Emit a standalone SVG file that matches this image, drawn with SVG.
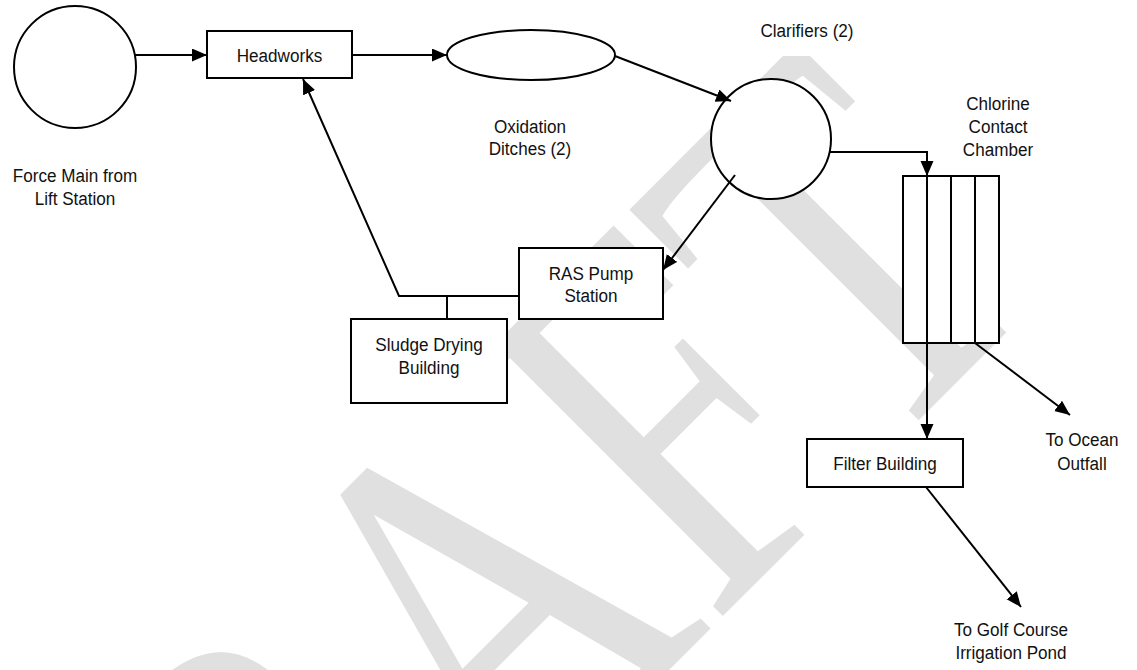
<svg xmlns="http://www.w3.org/2000/svg" width="1137" height="670" viewBox="0 0 1137 670">
<style>
.shape{fill:#fff;stroke:#000;stroke-width:2}
.div{fill:none;stroke:#000;stroke-width:2}
.conn{fill:none;stroke:#000;stroke-width:2}
.lbl{font-family:"Liberation Sans",Arial,sans-serif;font-size:19px;fill:#111;text-anchor:middle}
.wm{font-family:"Liberation Serif","Times New Roman",serif;font-size:540px;fill:#e0e0e0}
</style>
<defs>
<marker id="arr" markerUnits="userSpaceOnUse" markerWidth="16" markerHeight="14" refX="15" refY="6.5" orient="auto">
<path d="M0,0 L15,6.5 L0,13 z" fill="#000"/>
</marker>
<clipPath id="wmclip"><rect x="0" y="56" width="1137" height="614"/></clipPath>
</defs>
<rect width="1137" height="670" fill="#fff"/>
<g id="watermark" clip-path="url(#wmclip)">
<text class="wm" transform="translate(100,1239) rotate(-45) scale(0.76,1)">DRAFT</text>
</g>
<g id="force-main">
<circle class="shape" cx="75" cy="67" r="61"/>
<text class="lbl" transform="translate(75,182) scale(0.9,1)"><tspan x="0" y="0">Force Main from</tspan><tspan x="0" y="23">Lift Station</tspan></text>
</g>
<g id="headworks">
<rect class="shape" x="207" y="31" width="145" height="47"/>
<text class="lbl" transform="translate(279.5,62) scale(0.9,1)">Headworks</text>
</g>
<g id="oxidation-ditches">
<ellipse class="shape" cx="531" cy="55" rx="84" ry="25"/>
<text class="lbl" transform="translate(530,133) scale(0.9,1)"><tspan x="0" y="0">Oxidation</tspan><tspan x="0" y="22">Ditches (2)</tspan></text>
</g>
<g id="clarifiers">
<circle class="shape" cx="771" cy="139" r="60"/>
<text class="lbl" transform="translate(807,37) scale(0.9,1)">Clarifiers (2)</text>
</g>
<g id="chlorine-contact-chamber">
<rect class="shape" x="903" y="176" width="96" height="167"/>
<path class="div" d="M927,176 V343 M951,176 V343 M975,176 V343"/>
<text class="lbl" transform="translate(998,110) scale(0.9,1)"><tspan x="0" y="0">Chlorine</tspan><tspan x="0" y="23">Contact</tspan><tspan x="0" y="46">Chamber</tspan></text>
</g>
<g id="ras-pump-station">
<rect class="shape" x="519" y="248" width="144" height="71"/>
<text class="lbl" transform="translate(591,280) scale(0.9,1)"><tspan x="0" y="0">RAS Pump</tspan><tspan x="0" y="22.5">Station</tspan></text>
</g>
<g id="sludge-drying-building">
<rect class="shape" x="351" y="319" width="156" height="84"/>
<text class="lbl" transform="translate(429,351) scale(0.9,1)"><tspan x="0" y="0">Sludge Drying</tspan><tspan x="0" y="23">Building</tspan></text>
</g>
<g id="filter-building">
<rect class="shape" x="807" y="439" width="156" height="48"/>
<text class="lbl" transform="translate(885,470) scale(0.9,1)">Filter Building</text>
</g>
<g id="ocean-outfall">
<text class="lbl" transform="translate(1082,446) scale(0.9,1)"><tspan x="0" y="0">To Ocean</tspan><tspan x="0" y="24">Outfall</tspan></text>
</g>
<g id="golf-course">
<text class="lbl" transform="translate(1011,636) scale(0.9,1)"><tspan x="0" y="0">To Golf Course</tspan><tspan x="0" y="23">Irrigation Pond</tspan></text>
</g>
<g id="connectors">
<path class="conn" d="M135,55 H207" marker-end="url(#arr)"/>
<path class="conn" d="M352,55 H447" marker-end="url(#arr)"/>
<path class="conn" d="M615,56 L731,101" marker-end="url(#arr)"/>
<path class="conn" d="M830,152 H927 V176" marker-end="url(#arr)"/>
<path class="conn" d="M735,175 L663,270" marker-end="url(#arr)"/>
<path class="conn" d="M519,296 H399 L303,79" marker-end="url(#arr)"/>
<path class="conn" d="M447,296 V319"/>
<path class="conn" d="M927,176 V439" marker-end="url(#arr)"/>
<path class="conn" d="M975,343 L1070,415" marker-end="url(#arr)"/>
<path class="conn" d="M926,487 L1021,607" marker-end="url(#arr)"/>
</g>
</svg>
